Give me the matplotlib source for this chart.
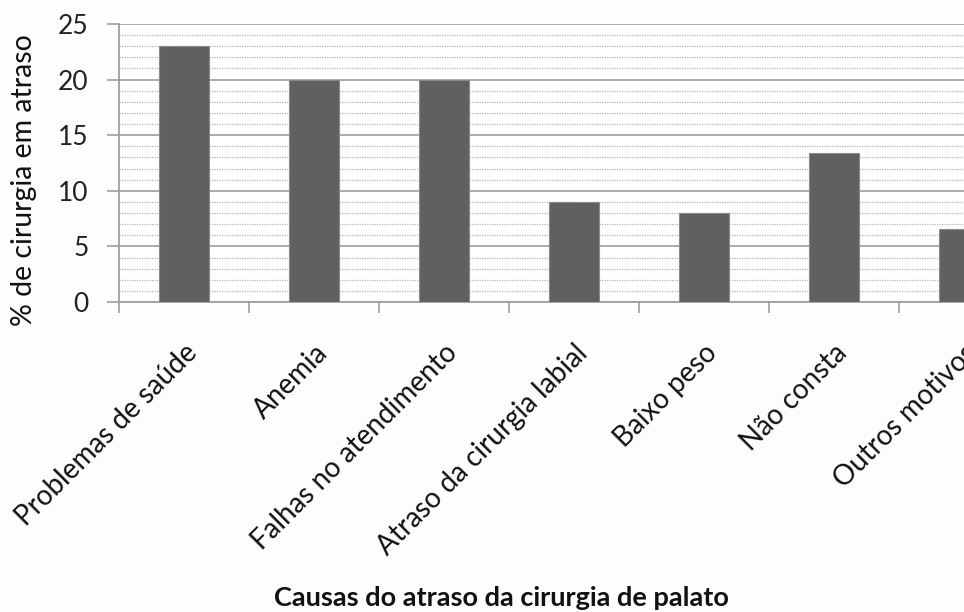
import matplotlib
matplotlib.use("Agg")
import matplotlib.pyplot as plt
from matplotlib.ticker import MultipleLocator, FixedLocator

categories = [
    "Problemas de saúde",
    "Anemia",
    "Falhas no atendimento",
    "Atraso da cirurgia labial",
    "Baixo peso",
    "Não consta",
    "Outros motivos",
]
values = [23.0, 20.0, 20.0, 9.0, 8.0, 13.4, 6.6]
y_ticks = [0, 5, 10, 15, 20, 25]

plt.rcParams["font.family"] = ["Lato", "DejaVu Sans"]

fig = plt.figure(figsize=(9.64, 6.12), dpi=100, facecolor="#fdfdfd")
# plot area runs past the right edge of the figure, so the last column is cut
ax = fig.add_axes([119 / 964, 310 / 612, 910 / 964, 278 / 612])
ax.set_facecolor("white")

x = list(range(len(categories)))
ax.bar(x, values, width=0.39, color="#606060", edgecolor="#8a8a8a",
       linewidth=0.8, zorder=3)

ax.set_xlim(-0.5, len(categories) - 0.5)
ax.set_ylim(0, 25)

# gridlines: solid at every 5, dotted at every 1
ax.set_yticks(y_ticks)
ax.yaxis.set_minor_locator(MultipleLocator(1))
ax.grid(which="major", axis="y", color="#a6a6a6", linewidth=1.3, zorder=1)
ax.grid(which="minor", axis="y", color="#b4b4b4", linewidth=0.9,
        linestyle=(0, (1, 1)), zorder=1)
ax.tick_params(axis="y", which="minor", length=0)
ax.tick_params(axis="y", which="major", length=9, width=1.2, color="#a0a0a0",
               labelsize=19, labelcolor="#222222", pad=13)

# category labels at centres, tick marks at category boundaries
ax.set_xticks(x)
ax.set_xticklabels(categories, rotation=45, ha="right", va="top",
                   rotation_mode="anchor", fontsize=20, color="#111111")
ax.tick_params(axis="x", which="major", length=0, pad=27)
ax.xaxis.set_minor_locator(FixedLocator([i - 0.5 for i in range(len(categories) + 1)]))
ax.tick_params(axis="x", which="minor", length=8, width=1.2, color="#a0a0a0")

for side in ["top", "right"]:
    ax.spines[side].set_visible(False)
for side in ["left", "bottom"]:
    ax.spines[side].set_color("#a0a0a0")
    ax.spines[side].set_linewidth(1.3)

ax.set_ylabel("% de cirurgia em atraso", fontsize=20.5, color="#111111")
ax.yaxis.set_label_coords(-82 / 910, 0.44)
fig.text(501 / 964, 1 - 598 / 612, "Causas do atraso da cirurgia de palato",
         fontsize=19.5, fontweight="bold", color="#111111",
         ha="center", va="center")

fig.savefig("out.png", dpi=100, facecolor=fig.get_facecolor())
